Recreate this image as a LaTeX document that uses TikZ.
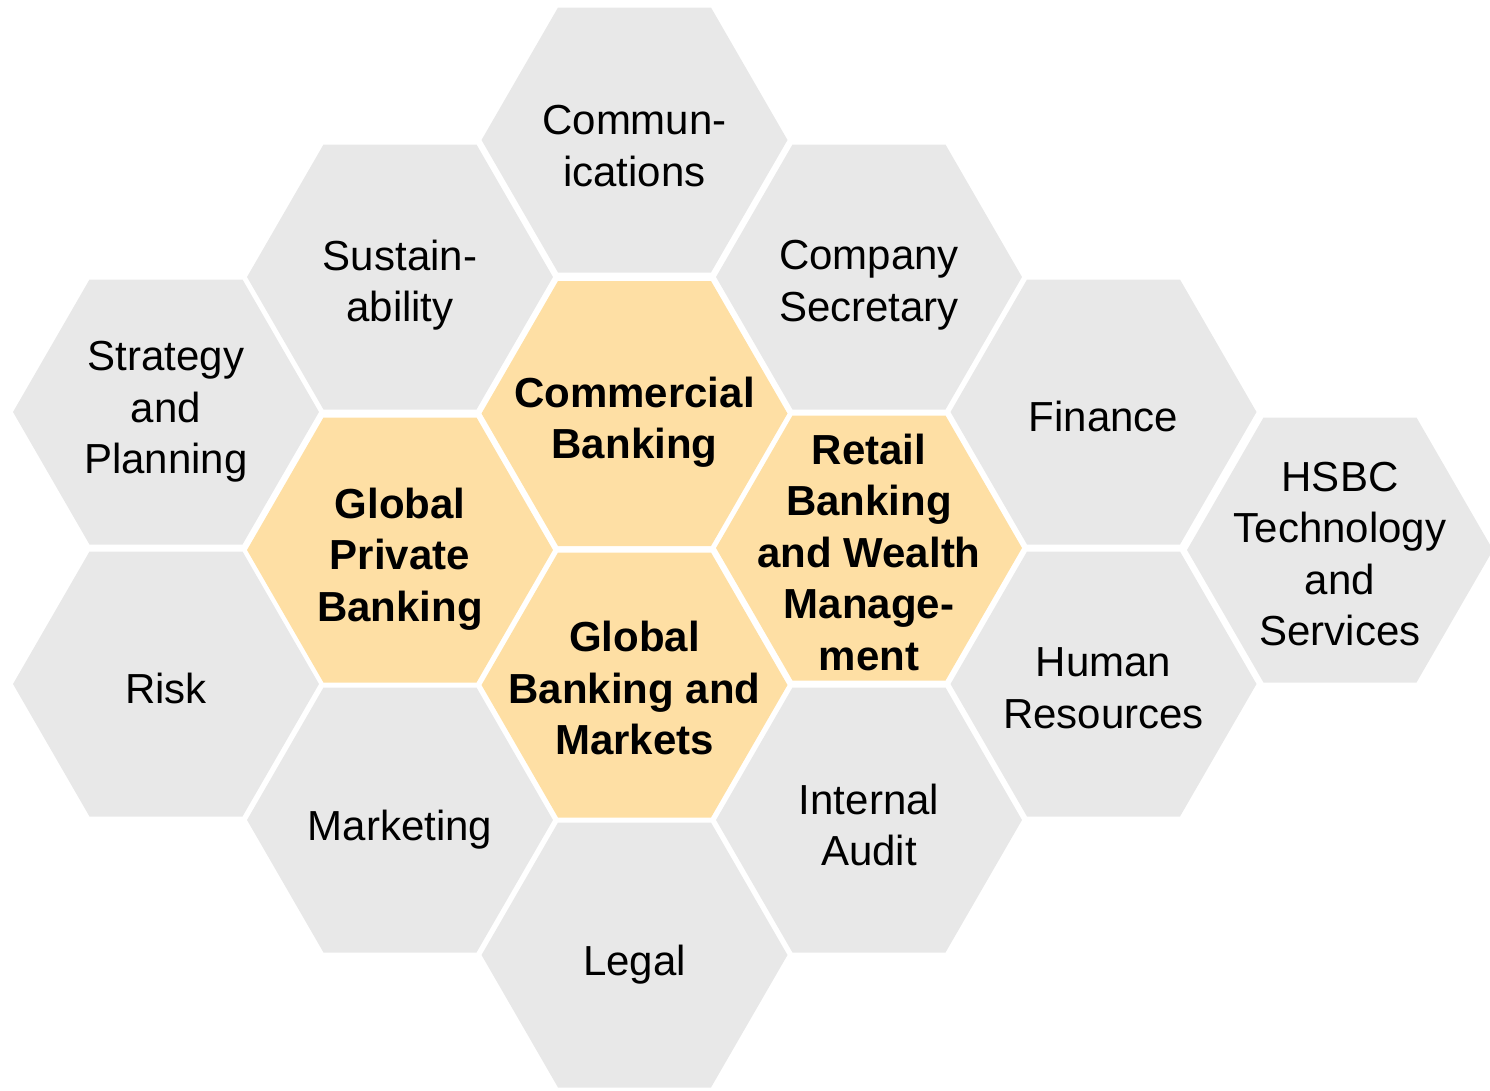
\documentclass[tikz,border=0pt]{standalone}
\usepackage{fontspec}
\setmainfont{Liberation Sans}
\definecolor{hexgray}{HTML}{E8E8E8}
\definecolor{hexorange}{HTML}{FEDFA4}
\tikzset{
  hexfill/.style={fill=#1},
  lbl/.style={font=\fontsize{42}{51.5}\selectfont, align=center, inner sep=0pt, text=black},
  blbl/.style={lbl, font=\fontsize{42}{51.5}\selectfont\bfseries},
}
\newcommand\hexat[3]{%
  \fill[hexfill=#3, shift={(#1,#2)}] (153,0) -- (76.5,-132.5) -- (-76.5,-132.5) -- (-153,0) -- (-76.5,132.5) -- (76.5,132.5) -- cycle;}
\begin{document}
\begin{tikzpicture}[x=1pt,y=-1pt]
\useasboundingbox (0,0) rectangle (1490,1090);
% column 1
\hexat{166}{412}{hexgray}
\hexat{166}{684}{hexgray}
% column 2
\hexat{400}{277}{hexgray}
\hexat{400}{550}{hexorange}
\hexat{400}{820}{hexgray}
% column 3
\hexat{634.5}{140}{hexgray}
\hexat{634.5}{413.5}{hexorange}
\hexat{634.5}{685}{hexorange}
\hexat{634.5}{955}{hexgray}
% column 4
\hexat{869}{277}{hexgray}
\hexat{869}{548}{hexorange}
\hexat{869}{820}{hexgray}
% column 5
\hexat{1103.5}{412}{hexgray}
\hexat{1103.5}{684}{hexgray}
% column 6
\hexat{1340}{550}{hexgray}
% labels
\node[lbl] (strat) at (166,412) {Strategy\\and\\Planning};
\node[lbl] (risk) at (166,688) {Risk};
\node[lbl] (sust) at (400,285) {Sustain-\\ability};
\node[blbl] (gpb) at (400,559) {Global\\Private\\Banking};
\node[lbl] (mkt) at (400,830) {Marketing};
\node[lbl] (comm) at (634.5,146) {Commun-\\ications};
\node[blbl] (cb) at (634.5,422) {Commercial\\Banking};
\node[blbl] (gbm) at (634.5,688) {Global\\Banking and\\Markets};
\node[lbl] (legal) at (634.5,965) {Legal};
\node[lbl] (cs) at (869,285) {Company\\Secretary};
\node[blbl] (rbwm) at (869,552) {Retail\\Banking\\and Wealth\\Manage-\\ment};
\node[lbl] (ia) at (869,825) {Internal\\Audit};
\node[lbl] (fin) at (1103.5,416) {Finance};
\node[lbl] (hr) at (1103.5,688) {Human\\Resources};
\node[lbl] (hsbc) at (1340,554) {HSBC\\Technology\\and\\Services};
\end{tikzpicture}
\end{document}
